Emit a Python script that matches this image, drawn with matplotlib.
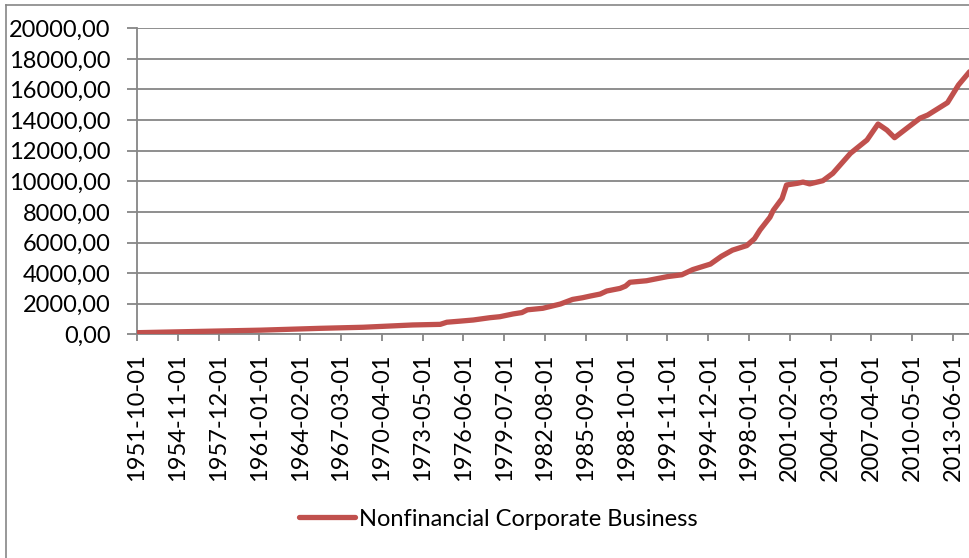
import numpy as np
import matplotlib
matplotlib.use("Agg")
import matplotlib.pyplot as plt
from matplotlib.lines import Line2D

plt.rcParams['font.family'] = ['Lato', 'DejaVu Sans']

# series: nonfinancial corporate business
dates = ["1951-10", "1956-07", "1961-02", "1965-08", "1968-11", "1972-08",
         "1974-09", "1975-03", "1976-03", "1977-03", "1978-06", "1979-03",
         "1980-03", "1980-11", "1981-04", "1982-06", "1983-10", "1984-09",
         "1985-06", "1986-01", "1986-10", "1987-04", "1988-04", "1988-09",
         "1989-01", "1990-04", "1991-11", "1992-12", "1993-10", "1995-02",
         "1995-12", "1996-10", "1997-11", "1998-06", "1998-11", "1999-08",
         "1999-11", "2000-07", "2000-11", "2001-09", "2002-02", "2002-08",
         "2003-08", "2004-05", "2005-09", "2006-12", "2007-10", "2008-06",
         "2009-01", "2009-12", "2010-12", "2011-07", "2013-01", "2013-11",
         "2014-09"]
values = [105, 190, 270, 390, 460, 610,
          650, 790, 860, 935, 1085, 1150,
          1330, 1420, 1600, 1700, 1980, 2280,
          2390, 2500, 2630, 2830, 3000, 3150,
          3400, 3500, 3770, 3890, 4230, 4590,
          5100, 5500, 5800, 6250, 6820, 7650,
          8100, 8880, 9760, 9870, 9950, 9830,
          10040, 10520, 11830, 12700, 13745, 13350,
          12850, 13460, 14120, 14330, 15140, 16300,
          17160]
series_name = "Nonfinancial Corporate Business"

# category labels shown on the x axis
tick_labels = ["1951-10-01", "1954-11-01", "1957-12-01", "1961-01-01",
               "1964-02-01", "1967-03-01", "1970-04-01", "1973-05-01",
               "1976-06-01", "1979-07-01", "1982-08-01", "1985-09-01",
               "1988-10-01", "1991-11-01", "1994-12-01", "1998-01-01",
               "2001-02-01", "2004-03-01", "2007-04-01", "2010-05-01",
               "2013-06-01"]


def month_index(s):
    y, m = int(s[0:4]), int(s[5:7])
    return (y - 1951) * 12 + (m - 10)


xs = np.array([month_index(d) for d in dates])
ys = np.array(values)
xticks = [month_index(t) for t in tick_labels]

grey = "#868686"
red = "#C0504D"

fig = plt.figure(figsize=(9.7, 5.58), dpi=100)
ax = fig.add_axes([137/970, 223.7/558, 833/970, 306/558])

ax.plot(xs, ys, color=red, linewidth=3.8, solid_capstyle="round",
        solid_joinstyle="round", label=series_name, zorder=3)

ax.set_xlim(0, 755.4)
ax.set_ylim(0, 20000)
ax.set_yticks(np.arange(0, 20001, 2000))
ax.set_yticklabels(["%d,00" % v for v in np.arange(0, 20001, 2000)])
ax.set_xticks(xticks)
ax.set_xticklabels(tick_labels, rotation=90)

ax.grid(axis="y", color=grey, linewidth=1.3)
ax.set_axisbelow(True)
for s in ["top", "right"]:
    ax.spines[s].set_visible(False)
for s in ["left", "bottom"]:
    ax.spines[s].set_color(grey)
    ax.spines[s].set_linewidth(1.3)

ax.tick_params(axis="y", length=7, width=1.3, color=grey, pad=12,
               labelsize=17, labelcolor="black")
ax.tick_params(axis="x", length=5, width=1.3, color=grey, pad=9,
               labelsize=17, labelcolor="black")

# chart area border (left and top visible)
fig.add_artist(Line2D([6.5/970, 6.5/970], [0, 1 - 5/558], color=grey,
                      linewidth=1.2, transform=fig.transFigure))
fig.add_artist(Line2D([6.5/970, 1], [1 - 5/558, 1 - 5/558], color=grey,
                      linewidth=1.2, transform=fig.transFigure))

fig.legend(loc="center", bbox_to_anchor=(498/970, 39/558), frameon=False,
           fontsize=17, handlelength=2.4, handletextpad=0.15)

fig.savefig("out.png", dpi=100)
